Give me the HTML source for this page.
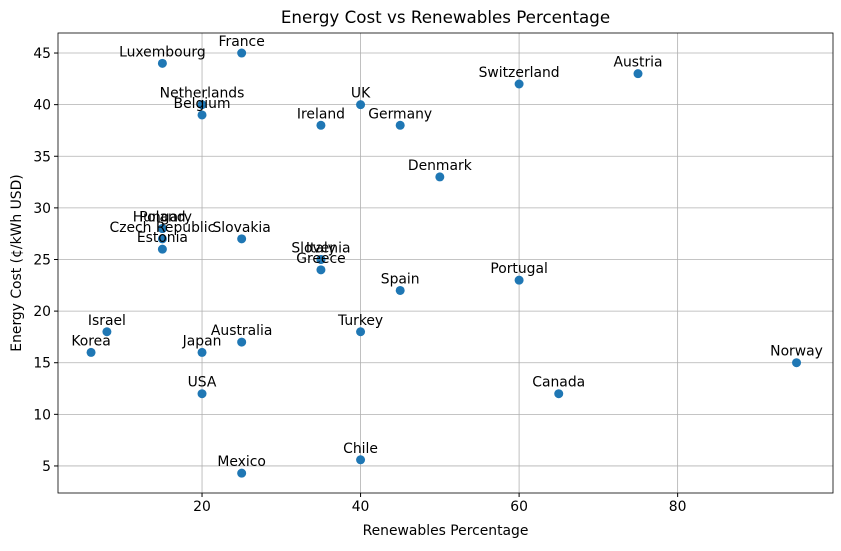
<!DOCTYPE html>
<html><head><meta charset="utf-8"><style>
body{margin:0;background:#fff;font-family:"DejaVu Sans","Liberation Sans",sans-serif}
svg text{font-family:"DejaVu Sans","Liberation Sans",sans-serif}
</style></head><body>
<svg id="chart" width="841" height="547"></svg>
<script>
const countries=["Luxembourg","France","Netherlands","Belgium","UK","Ireland","Germany","Switzerland","Austria","Denmark","Hungary","Poland","Czech Republic","Estonia","Slovakia","Italy","Slovenia","Greece","Spain","Portugal","Israel","Korea","Japan","Australia","Turkey","Norway","USA","Canada","Chile","Mexico"];
const renewables=[15,25,20,20,40,35,45,60,75,50,15,15,15,15,25,35,35,35,45,60,8,6,20,25,40,95,20,65,40,25];
const costs=[44,45,40,39,40,38,38,42,43,33,28,28,27,26,27,25,25,24,22,23,18,16,16,17,18,15,12,12,5.6,4.3];
const xTicks=[20,40,60,80];
const yTicks=[5,10,15,20,25,30,35,40,45];
const L=58,R=833,T=33,B=493;
const xMin=1.83,xMax=99.6,yMin=2.38,yMax=46.94;
const sx=v=>L+(v-xMin)/(xMax-xMin)*(R-L);
const sy=v=>B-(v-yMin)/(yMax-yMin)*(B-T);
const svg=document.getElementById('chart');
const NS='http://www.w3.org/2000/svg';
function mk(t,a,txt){const e=document.createElementNS(NS,t);for(const k in a)e.setAttribute(k,a[k]);if(txt!=null)e.textContent=txt;svg.appendChild(e);return e;}
xTicks.forEach(v=>{const x=sx(v);
const g=mk('line',{x1:x,x2:x,y1:T,y2:B,stroke:'#b0b0b0','stroke-width':0.8});


mk('line',{x1:x,x2:x,y1:B,y2:B+4,stroke:'#000'});
const t=mk('text',{x:x,y:B+18,'text-anchor':'middle','font-size':13.9},v);

});
yTicks.forEach(v=>{const y=sy(v);
const g=mk('line',{x1:L,x2:R,y1:y,y2:y,stroke:'#b0b0b0','stroke-width':0.8});


mk('line',{x1:L-4,x2:L,y1:y,y2:y,stroke:'#000'});
const t=mk('text',{x:L-7,y:y+5,'text-anchor':'end','font-size':13.9},v);

});
const fr=mk('rect',{x:L,y:T,width:R-L,height:B-T,fill:'none',stroke:'#000','stroke-width':0.8});


countries.forEach((c,i)=>{const x=sx(renewables[i]),y=sy(costs[i]);
const p=mk('circle',{cx:x,cy:y,r:4.5,fill:'#1f77b4'});


const t=mk('text',{x:x,y:y-7,'text-anchor':'middle','font-size':13.9},c);

});
const ti=mk('text',{x:(L+R)/2,y:23,'text-anchor':'middle','font-size':16.7},'Energy Cost vs Renewables Percentage');


const xt=mk('text',{x:(L+R)/2,y:535,'text-anchor':'middle','font-size':13.9},'Renewables Percentage');


const yt=mk('text',{x:21,y:(T+B)/2,'text-anchor':'middle','font-size':13.9,transform:'rotate(-90 21 '+((T+B)/2)+')'},'Energy Cost (¢/kWh USD)');


</script>
</body></html>
